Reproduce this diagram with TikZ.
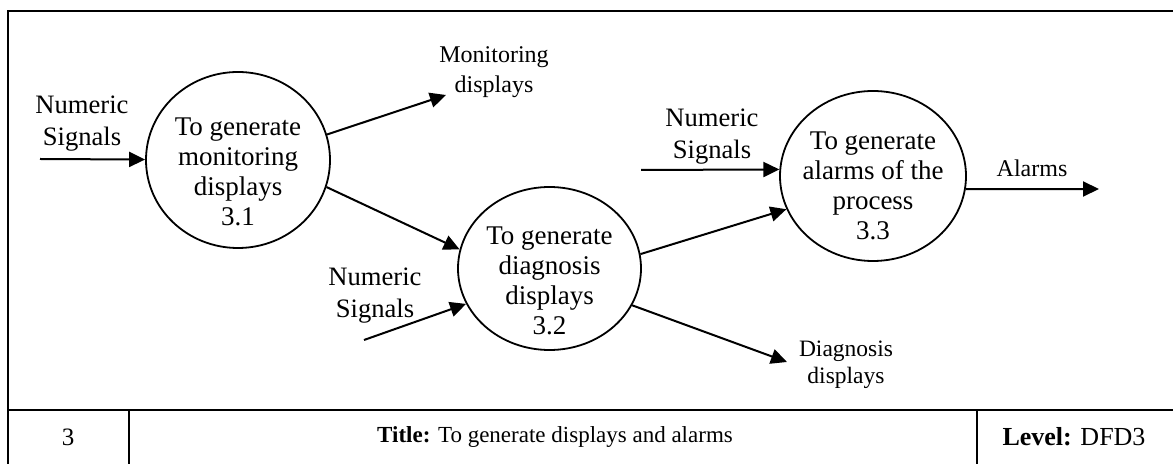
\documentclass[tikz,border=0pt]{standalone}
\usepackage{fontspec}
\setmainfont{Liberation Serif}
\usetikzlibrary{arrows.meta,shapes.geometric}

\begin{document}
\begin{tikzpicture}[x=0.5pt, y=-0.5pt,
  proc/.style={draw, ellipse, line width=0.9pt, inner sep=0pt},
  proctext/.style={align=center, font=\fontsize{13.5}{15}\selectfont},
  flow/.style={line width=1pt, -{Triangle[length=8pt,width=7.5pt]}},
  sig/.style={align=center, font=\fontsize{13.3}{16}\selectfont},
  lbl/.style={align=center, font=\fontsize{12}{15}\selectfont},
  cell/.style={font=\fontsize{12.5}{15}\selectfont}]

\useasboundingbox (0,0) rectangle (1173,464);

%frame
\draw[line width=1pt] (8,470) -- (8,11) -- (1176,11) -- (1176,470);
\draw[line width=1pt] (8,410) -- (1176,410);
\draw[line width=1pt] (129,410) -- (129,470);
\draw[line width=1pt] (977,410) -- (977,470);

%processes
\node[proc, minimum width=92pt, minimum height=88pt] (p1) at (238,160) {};
\node[proc, minimum width=91.5pt, minimum height=81.5pt] (p2) at (549.5,268.5) {};
\node[proc, minimum width=93pt, minimum height=85pt] (p3) at (873,176) {};

\node[proctext] (p1 text) at ([yshift=-6pt]p1.center) {To generate\\monitoring\\displays\\3.1};
\node[proctext] (p2 text) at ([yshift=-6pt]p2.center) {To generate\\diagnosis\\displays\\3.2};
\node[proctext] (p3 text) at ([yshift=-5pt]p3.center) {To generate\\alarms of the\\process\\3.3};

%flow ends
\coordinate (in1) at (40,159);
\coordinate (in2) at (364,340);
\coordinate (in3) at (641,170);
\coordinate (mon end) at (446,95);
\coordinate (diag end) at (787,362);
\coordinate (alarm end) at (1099,189);

%flows
\draw[flow] (in1) -- (p1);
\draw[flow] (p1.16.5) -- (mon end);
\draw[flow] (p1.-17.5) -- (p2.168.7);
\draw[flow] (in2) -- (p2.203.4);
\draw[flow] (p2.9) -- (p3.201.8);
\draw[flow] (in3) -- (p3.176.3);
\draw[flow] (p3.-8) -- (alarm end);
\draw[flow] (p2.-24.8) -- (diag end);

%labels
\node[sig] (sig1) at (82,124) {Numeric\\Signals};
\node[sig] (sig2) at (375,296) {Numeric\\Signals};
\node[sig] (sig3) at (712,137) {Numeric\\Signals};
\node[lbl] (mon) at (494,72) {Monitoring\\displays};
\node[lbl] (alarms) at (1032,168) {Alarms};
\node[lbl, font=\fontsize{11.75}{13.5}\selectfont] (diag) at (846,365) {Diagnosis\\displays};

%footer
\node[cell] (num) at (68,437) {3};
\node[cell, font=\fontsize{11.5}{13}\selectfont] (title) at (555,437) {\textbf{Title:} To generate displays and alarms};
\node[cell, font=\fontsize{13}{15}\selectfont] (level) at (1074,437) {\textbf{Level:} DFD3};

\end{tikzpicture}
\end{document}
